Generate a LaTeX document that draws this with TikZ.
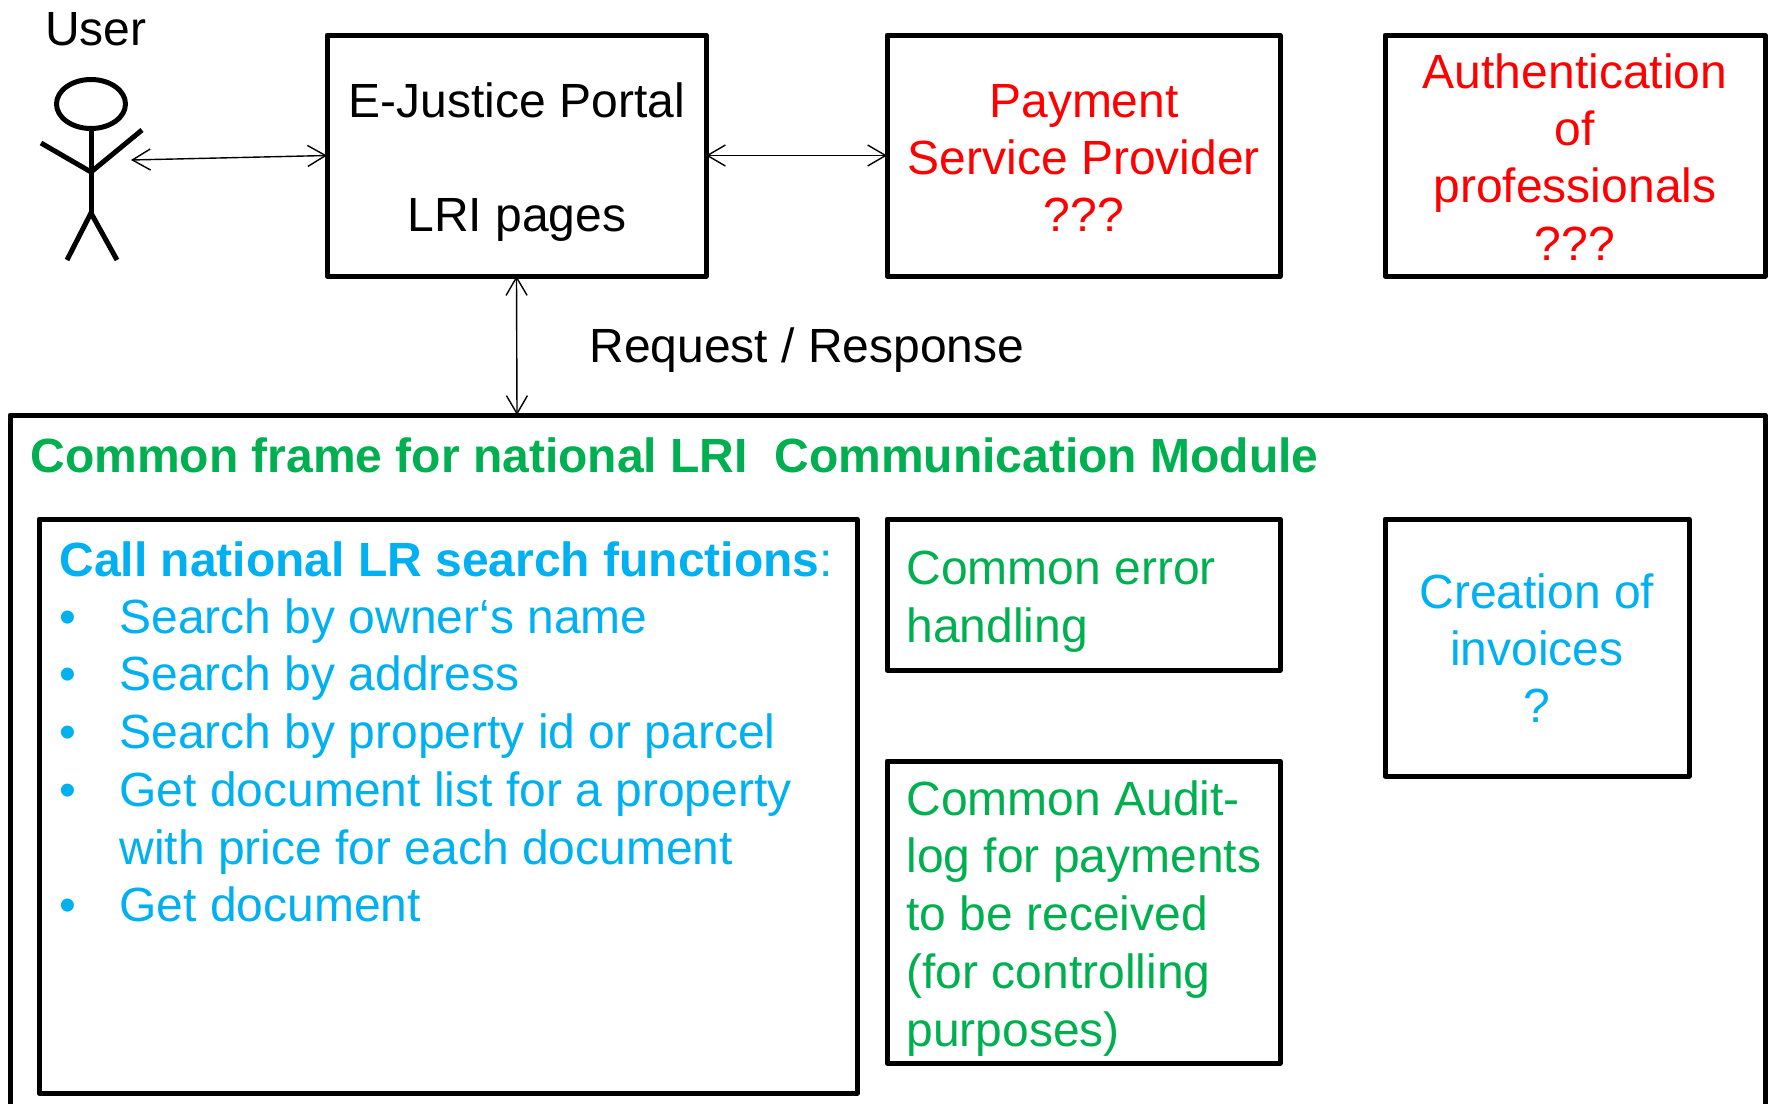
\documentclass[tikz,border=0pt]{standalone}
\usepackage{fontspec}
\setmainfont{Liberation Sans}
\usetikzlibrary{arrows.meta}
\definecolor{lrired}{RGB}{255,0,0}
\definecolor{lrigreen}{RGB}{0,176,80}
\definecolor{lriblue}{RGB}{0,176,240}
\tikzset{
    box/.style={draw=black,line width=2.5pt,line join=round,rectangle,anchor=north west,inner sep=0pt,outer sep=0pt},
    boxtext/.style={font=\fontsize{24}{28.6}\selectfont,align=center,inner sep=0pt},
    lefttext/.style={boxtext,align=left,anchor=north west},
    listtext/.style={boxtext,lriblue,anchor=base west},
    stick/.style={black,line width=2.5pt},
    link/.style={black,line width=0.7pt,{Straight Barb[length=9pt,width=10.5pt]}-{Straight Barb[length=9pt,width=10.5pt]}}
}
\begin{document}
\begin{tikzpicture}[x=0.5pt,y=-0.5pt]
\useasboundingbox (0,0) rectangle (1769,1104);

%top row
\node[box,minimum width=189.5pt,minimum height=120.5pt] (portal) at (327,35) {};
\node[box,minimum width=196.5pt,minimum height=120.5pt] (payment) at (887,35) {};
\node[box,minimum width=190pt,minimum height=120.5pt] (auth) at (1385,35) {};
\node[boxtext] (portaltext) at (517,162) {E-Justice Portal\\[28.7pt]LRI pages};
\node[boxtext,lrired] (paymenttext) at (1084,158) {Payment\\Service Provider\\???};
\node[boxtext,lrired] (authtext) at (1575,157) {Authentication\\of\\professionals\\???};

%user
\node[boxtext] (user) at (96,29) {User};
\draw[stick] (91,104) ellipse (34.5 and 24.5);
\draw[stick] (91,129)--(91,213);
\draw[stick] (41,143)--(91,172)--(142,130);
\draw[stick] (67,260)--(91,213)--(117,260);
\coordinate (hand) at (131,160);

%frame, runs off the bottom
\draw[box] (10,1110)--(10,415)--(1765,415)--(1765,1110);
\coordinate (frametop) at (517,415);
\node[boxtext,lrigreen,anchor=west,font=\fontsize{24}{28.6}\selectfont\bfseries] (frametitle) at (30,455)
    {Common frame for national LRI\ \ Communication Module};
\node[boxtext,anchor=west] (request) at (589,350) {Request / Response};

%inner boxes
\node[box,minimum width=409pt,minimum height=287pt] (search) at (39,519) {};
\node[box,minimum width=196.5pt,minimum height=75.5pt] (error) at (887,519) {};
\node[box,minimum width=196.5pt,minimum height=151pt] (audit) at (887,761) {};
\node[box,minimum width=152pt,minimum height=128.5pt] (invoice) at (1385,519) {};

\node[listtext] (searchhead) at (59,576) {\textbf{Call national LR search functions}:};
\foreach \y/\t in {633/Search by owner‘s name,690/Search by address,748/Search by property id or parcel,806/Get document list for a property,921/Get document}
    {\node[boxtext,lriblue,anchor=base] at (68,\y) {•};
     \node[listtext] at (119,\y) {\t};}
\node[listtext] (searchmore) at (119,864) {with price for each document};

\node[lefttext,lrigreen] (errortext) at (906,551) {Common error\\handling};
\node[lefttext,lrigreen,font=\fontsize{24}{28.9}\selectfont] (audittext) at (906,780) {Common Audit-\\log for payments\\to be received\\(for controlling\\purposes)};
\node[boxtext,lriblue] (invoicetext) at (1537,648) {Creation of\\invoices\\?};

%links
\draw[link] (hand)--(portal.west);
\draw[link] (portal.east)--(payment.west);
\draw[link] (portal.south)--(frametop);
\end{tikzpicture}
\end{document}
